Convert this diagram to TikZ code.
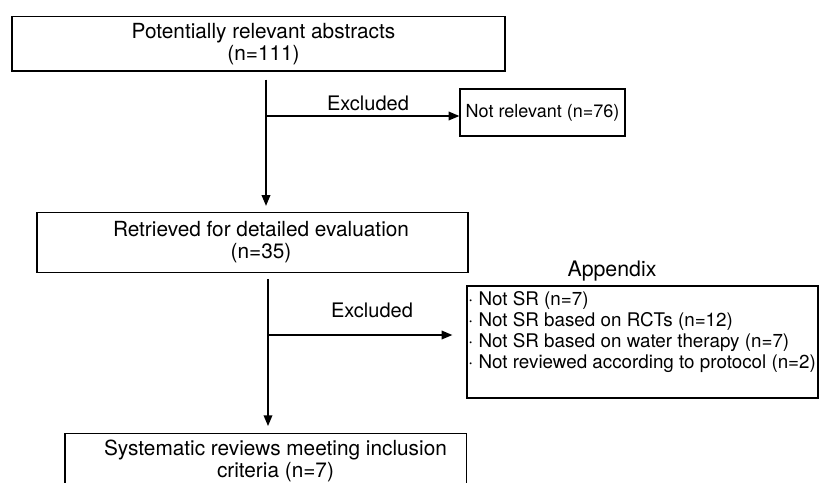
\documentclass[tikz,border=0pt]{standalone}
\usepackage{fontspec}
\setmainfont{TeX Gyre Heros}
\usetikzlibrary{arrows.meta}

\begin{document}
\begin{tikzpicture}[x=0.75pt,y=-0.75pt,
  box/.style={draw, line width=1pt, inner sep=0pt},
  txt/.style={align=center, inner sep=0pt, font=\fontsize{15.6}{16.5}\selectfont},
  tag/.style={inner sep=0pt, font=\fontsize{15}{18}\selectfont},
  flow/.style={-{Triangle[length=8pt,width=6.5pt]}, line width=1pt}]

% Cadre
\useasboundingbox (0,0) rectangle (821,482);

% Etapes
\node[box, minimum width=369.75pt, minimum height=41pt] (abstr) at (258.5,43.5) {};
\node[txt] (abstrtxt) at (263.5,44) {Potentially relevant abstracts\\(n=111)};
\node[box, minimum width=323.25pt, minimum height=45pt] (retr) at (252.5,242.5) {};
\node[txt] (retrtxt) at (261,242) {Retrieved for detailed evaluation\\(n=35)};
\node[box, minimum width=301pt, minimum height=41pt] (incl) at (265.5,461) {};
\node[txt] (incltxt) at (275.5,460.5) {Systematic reviews meeting inclusion\\criteria (n=7)};

% Exclusions
\node[box, minimum width=123.75pt, minimum height=35.25pt, font=\fontsize{13.5}{16}\selectfont] (notrel) at (542.5,112.5) {Not relevant (n=76)};
\node[box, minimum width=263.25pt, minimum height=84pt] (appx) at (642.5,342) {};
\node[anchor=north west, align=left, inner sep=0pt, font=\fontsize{14.1}{15.8}\selectfont] (items) at ([shift={(1.5,6)}]appx.north west)
  {· Not SR (n=7)\\· Not SR based on RCTs (n=12)\\· Not SR based on water therapy (n=7)\\· Not reviewed according to protocol (n=2)};
\node[tag, font=\fontsize{16}{18}\selectfont] (appxlbl) at (612,271) {Appendix};

% Fleches
\coordinate (trunkA) at (266,0);
\coordinate (forkA) at (266,116);
\draw[flow, shorten <=6pt, shorten >=4.5pt] (abstr.south -| trunkA) -- (retr.north -| trunkA);
\draw[flow] (forkA) -- (forkA -| notrel.west);
\node[tag] (exclA) at (368,103) {Excluded};

\coordinate (trunkB) at (268,0);
\coordinate (forkB) at (268,335);
\draw[flow, shorten <=4.5pt, shorten >=5.25pt] (retr.south -| trunkB) -- (incl.north -| trunkB);
\draw[flow, shorten >=10.5pt] (forkB) -- (forkB -| appx.west);
\node[tag] (exclB) at (372,310) {Excluded};

\end{tikzpicture}
\end{document}
